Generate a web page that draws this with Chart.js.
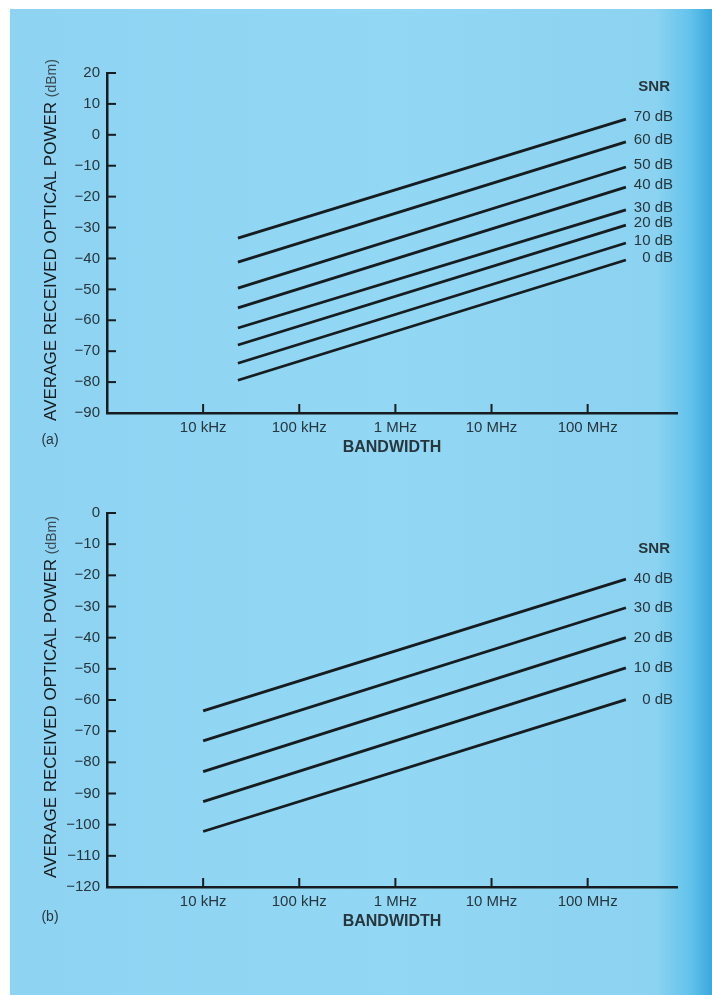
<!DOCTYPE html>
<html>
<head>
<meta charset="utf-8">
<script src="https://cdn.jsdelivr.net/npm/chart.js@4.4.1/dist/chart.umd.min.js"></script>
<style>
  html, body { margin: 0; padding: 0; width: 712px; height: 995px; overflow: hidden; background: #fff; }
  #sheet { position: absolute; left: 10px; top: 9px; right: 0; bottom: 0;
    background: linear-gradient(to right, #8ed4f2 0%, #92d7f4 55%, #8cd3f1 92%, #62c2eb 97%, #3aa8dc 100%); }
  canvas { position: absolute; left: 0; }
</style>
</head>
<body>
<div id="sheet"></div>
<canvas id="chartA" width="712" height="480" style="top:0"></canvas>
<canvas id="chartB" width="712" height="515" style="top:480px"></canvas>
<script>
// bandwidth axis
var xTicks = [1e4, 1e5, 1e6, 1e7, 1e8];
var xTickLabels = ["10 kHz", "100 kHz", "1 MHz", "10 MHz", "100 MHz"];

// (a) line end points: bandwidth (Hz) and received power (dBm)
var snrA = [70, 60, 50, 40, 30, 20, 10, 0];
var bwA = [2.3e4, 2.5e8];
var startA = [-33.4, -41.2, -49.6, -56, -62.5, -68, -73.9, -79.4];
var endA = [5.1, -2.3, -10.4, -16.9, -24.3, -29.2, -35, -40.5];

// (b)
var snrB = [40, 30, 20, 10, 0];
var bwB = [1e4, 2.5e8];
var startB = [-63.5, -73.1, -83, -92.6, -102.2];
var endB = [-21.2, -30.4, -40, -49.7, -59.9];

var family = '"Liberation Sans", Arial, Helvetica, sans-serif';
var ink = "#161c1f";
var textInk = "#27353c";

Chart.defaults.font.family = family;
Chart.defaults.color = textInk;

function minus(v) {
  return v < 0 ? "\u2212" + Math.abs(v) : String(v);
}

var annot = {
  id: "annot",
  afterDraw: function (chart, args, opts) {
    var ctx = chart.ctx, a = chart.chartArea, x = chart.scales.x, y = chart.scales.y;
    ctx.save();

    // tick marks point into the plot
    ctx.strokeStyle = ink;
    ctx.lineWidth = 2;
    y.ticks.forEach(function (t) {
      var py = y.getPixelForValue(t.value);
      ctx.beginPath(); ctx.moveTo(a.left, py); ctx.lineTo(a.left + 9, py); ctx.stroke();
    });
    x.ticks.forEach(function (t) {
      var px = x.getPixelForValue(t.value);
      ctx.beginPath(); ctx.moveTo(px, a.bottom); ctx.lineTo(px, a.bottom - 9); ctx.stroke();
    });

    // SNR labels at the line ends
    var ends = chart.data.datasets.map(function (d) {
      return y.getPixelForValue(d.data[d.data.length - 1].y);
    });
    ctx.fillStyle = textInk;
    ctx.textAlign = "right";
    ctx.textBaseline = "middle";
    ctx.font = "bold 15px " + family;
    ctx.fillText("SNR", a.right - 7, ends[0] + opts.dy - 30);
    ctx.font = "15px " + family;
    chart.data.datasets.forEach(function (d, i) {
      ctx.fillText(d.label, a.right - 4, ends[i] + opts.dy);
    });

    // panel tag
    ctx.textAlign = "center";
    ctx.font = "14px " + family;
    ctx.fillText(opts.tag, 50, a.bottom + opts.tagDy);

    // y axis title, unit in smaller type
    var main = "AVERAGE RECEIVED OPTICAL POWER ", unit = "(dBm)";
    ctx.translate(51, (a.top + a.bottom) / 2 - 3);
    ctx.rotate(-Math.PI / 2);
    ctx.textAlign = "left";
    ctx.font = "17px " + family;
    var w1 = ctx.measureText(main).width;
    ctx.font = "14px " + family;
    var w2 = ctx.measureText(unit).width;
    var x0 = -(w1 + w2) / 2;
    ctx.font = "17px " + family;
    ctx.fillStyle = ink;
    ctx.fillText(main, x0, 0);
    ctx.font = "14px " + family;
    ctx.fillStyle = "#3b4a52";
    ctx.fillText(unit, x0 + w1, 1);
    ctx.restore();
  }
};

function makeChart(id, snr, bw, start, end, yMin, yMax, pad, xHeight, titlePad, tag, tagDy, dy) {
  var datasets = snr.map(function (s, i) {
    return {
      label: s + " dB",
      data: [{ x: bw[0], y: start[i] }, { x: bw[1], y: end[i] }],
      borderColor: ink,
      borderWidth: 2.8,
      pointRadius: 0,
      tension: 0
    };
  });

  return new Chart(id, {
    type: "line",
    data: { datasets: datasets },
    options: {
      responsive: false,
      animation: false,
      layout: { padding: pad },
      plugins: {
        legend: { display: false },
        tooltip: { enabled: false },
        annot: { tag: tag, tagDy: tagDy, dy: dy }
      },
      scales: {
        x: {
          type: "logarithmic",
          min: 1000,
          max: 8.5e8,
          afterBuildTicks: function (s) {
            s.ticks = xTicks.map(function (v) { return { value: v }; });
          },
          afterFit: function (s) { s.height = xHeight; },
          ticks: {
            autoSkip: false,
            maxRotation: 0,
            padding: 6,
            font: { size: 15 },
            callback: function (v, i) { return xTickLabels[i]; }
          },
          grid: { display: false, drawTicks: false },
          border: { color: ink, width: 2.5 },
          title: {
            display: true,
            text: "BANDWIDTH",
            color: textInk,
            font: { size: 16, weight: "bold" },
            padding: { top: 0, bottom: titlePad }
          }
        },
        y: {
          min: yMin,
          max: yMax,
          afterFit: function (s) { s.width = 107; },
          ticks: {
            stepSize: 10,
            padding: 7,
            font: { size: 15 },
            callback: function (v) { return minus(v); }
          },
          grid: { display: false, drawTicks: false },
          border: { color: ink, width: 2.5 }
        }
      }
    },
    plugins: [annot]
  });
}

makeChart("chartA", snrA, bwA, startA, endA, -90, 20,
  { left: 0, top: 73, right: 35, bottom: 0 }, 67, 23, "(a)", 27, -2);
makeChart("chartB", snrB, bwB, startB, endB, -120, 0,
  { left: 0, top: 33, right: 35, bottom: 0 }, 108, 64, "(b)", 30, 0);
</script>
</body>
</html>
